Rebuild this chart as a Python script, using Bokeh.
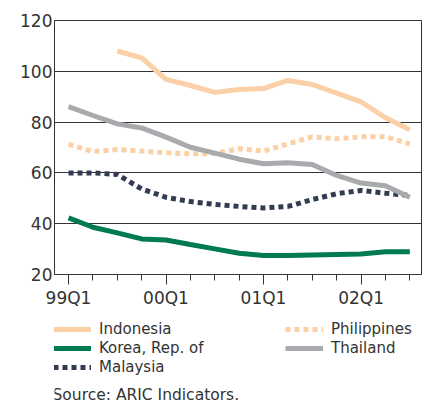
from bokeh.plotting import figure
from bokeh.layouts import column
from bokeh.models import Range1d, FixedTicker, Legend, LegendItem, Label
from bokeh.embed import file_html
from bokeh.resources import INLINE

NaN = float("nan")

quarters = ["99Q1", "99Q2", "99Q3", "99Q4", "00Q1", "00Q2", "00Q3", "00Q4",
            "01Q1", "01Q2", "01Q3", "01Q4", "02Q1", "02Q2", "02Q3"]
xs = list(range(len(quarters)))

indonesia = [NaN, NaN, 108.0, 105.3, 96.8, 94.4, 91.7, 92.8, 93.2, 96.4, 94.8, 91.4, 88.0, 81.7, 77.0]
korea = [42.3, 38.6, 36.4, 34.0, 33.6, 31.8, 30.1, 28.4, 27.5, 27.5, 27.7, 27.9, 28.1, 29.0, 29.0]
malaysia = [60.0, 60.0, 59.4, 53.7, 50.4, 48.7, 47.6, 46.8, 46.2, 46.8, 49.5, 51.8, 53.1, 52.0, 51.1]
philippines = [71.2, 68.4, 69.2, 68.6, 67.9, 67.5, 67.6, 69.5, 68.6, 71.4, 74.2, 73.4, 74.2, 74.3, 71.4]
thailand = [86.1, 82.6, 79.3, 77.7, 74.1, 70.1, 67.8, 65.4, 63.6, 64.0, 63.3, 59.0, 56.0, 54.9, 50.4]

series_names = ["Indonesia", "Korea, Rep. of", "Malaysia", "Philippines", "Thailand"]
y_ticks = [20, 40, 60, 80, 100, 120]
major_idx = [0, 4, 8, 12]
source_text = "Source: ARIC Indicators."

FONT = "DejaVu Sans"
TXT = "#333333"
LW = 5
styles = {
    "Indonesia": dict(line_color="#FCD0A6", line_width=LW),
    "Korea, Rep. of": dict(line_color="#007A4F", line_width=LW),
    "Malaysia": dict(line_color="#333B52", line_width=LW, line_dash="5 4"),
    "Philippines": dict(line_color="#FCD0A6", line_width=LW, line_dash="5 4"),
    "Thailand": dict(line_color="#A8AAAD", line_width=LW),
}
data = {"Indonesia": indonesia, "Korea, Rep. of": korea, "Malaysia": malaysia,
        "Philippines": philippines, "Thailand": thailand}

p = figure(width=430, height=312, output_backend="svg", toolbar_location=None,
           x_range=Range1d(-0.575, 14.48), y_range=Range1d(20, 120),
           min_border_left=54, min_border_right=9, min_border_top=20, min_border_bottom=38)
p.background_fill_color = "white"
p.border_fill_color = "white"
p.outline_line_color = "#333333"
p.outline_line_width = 1

p.xgrid.visible = False
p.ygrid.ticker = FixedTicker(ticks=[40, 60, 80, 100])
p.ygrid.grid_line_color = "#333333"
p.ygrid.grid_line_width = 1

p.xaxis.ticker = FixedTicker(ticks=major_idx, minor_ticks=xs)
p.xaxis.major_label_overrides = {i: quarters[i] for i in major_idx}
p.xaxis.major_tick_out = 10
p.xaxis.major_tick_in = 0
p.xaxis.minor_tick_out = 6
p.xaxis.minor_tick_in = 0
p.xaxis.major_label_standoff = 3

p.yaxis.ticker = FixedTicker(ticks=y_ticks)
p.yaxis.major_tick_out = 0
p.yaxis.major_tick_in = 0
p.yaxis.minor_tick_out = 0
p.yaxis.minor_tick_in = 0
p.yaxis.major_label_standoff = 2

for ax in (p.xaxis, p.yaxis):
    ax.axis_line_color = "#333333"
    ax.major_tick_line_color = "#333333"
    ax.minor_tick_line_color = "#333333"
    ax.major_label_text_font = FONT
    ax.major_label_text_font_size = "17px"
    ax.major_label_text_color = TXT

for name in series_names:
    p.line(xs, data[name], **styles[name])

# legend / source panel (same frame columns as the chart)
q = figure(width=430, height=91, output_backend="svg", toolbar_location=None,
           x_range=Range1d(0, 1), y_range=Range1d(0, 1),
           x_axis_type=None, y_axis_type=None,
           min_border_left=54, min_border_right=9, min_border_top=0, min_border_bottom=0)
q.outline_line_color = None
q.xgrid.visible = False
q.ygrid.visible = False
q.background_fill_color = "white"
q.border_fill_color = "white"

# key renderers: the same series, lying outside this panel's visible range
key_renderers = {name: q.line(xs, data[name], **styles[name]) for name in series_names}

def make_legend(names, loc):
    return Legend(items=[LegendItem(label=n, renderers=[key_renderers[n]]) for n in names],
                  location=loc, padding=0, margin=0, spacing=1,
                  glyph_width=38, glyph_height=16, label_height=16, label_standoff=8,
                  label_text_font=FONT, label_text_font_size="15px", label_text_color=TXT,
                  border_line_alpha=0, background_fill_alpha=0)

q.add_layout(make_legend(series_names[:3], (-1, 27)), "center")
q.add_layout(make_legend(series_names[3:], (231, 46)), "center")

q.add_layout(Label(x=-2, y=9, x_units="screen", y_units="screen", text=source_text,
                   text_font=FONT, text_font_size="15.5px", text_color=TXT,
                   text_baseline="alphabetic"))

layout = column(p, q, spacing=0)
open("out.html", "w").write(file_html(layout, INLINE))
